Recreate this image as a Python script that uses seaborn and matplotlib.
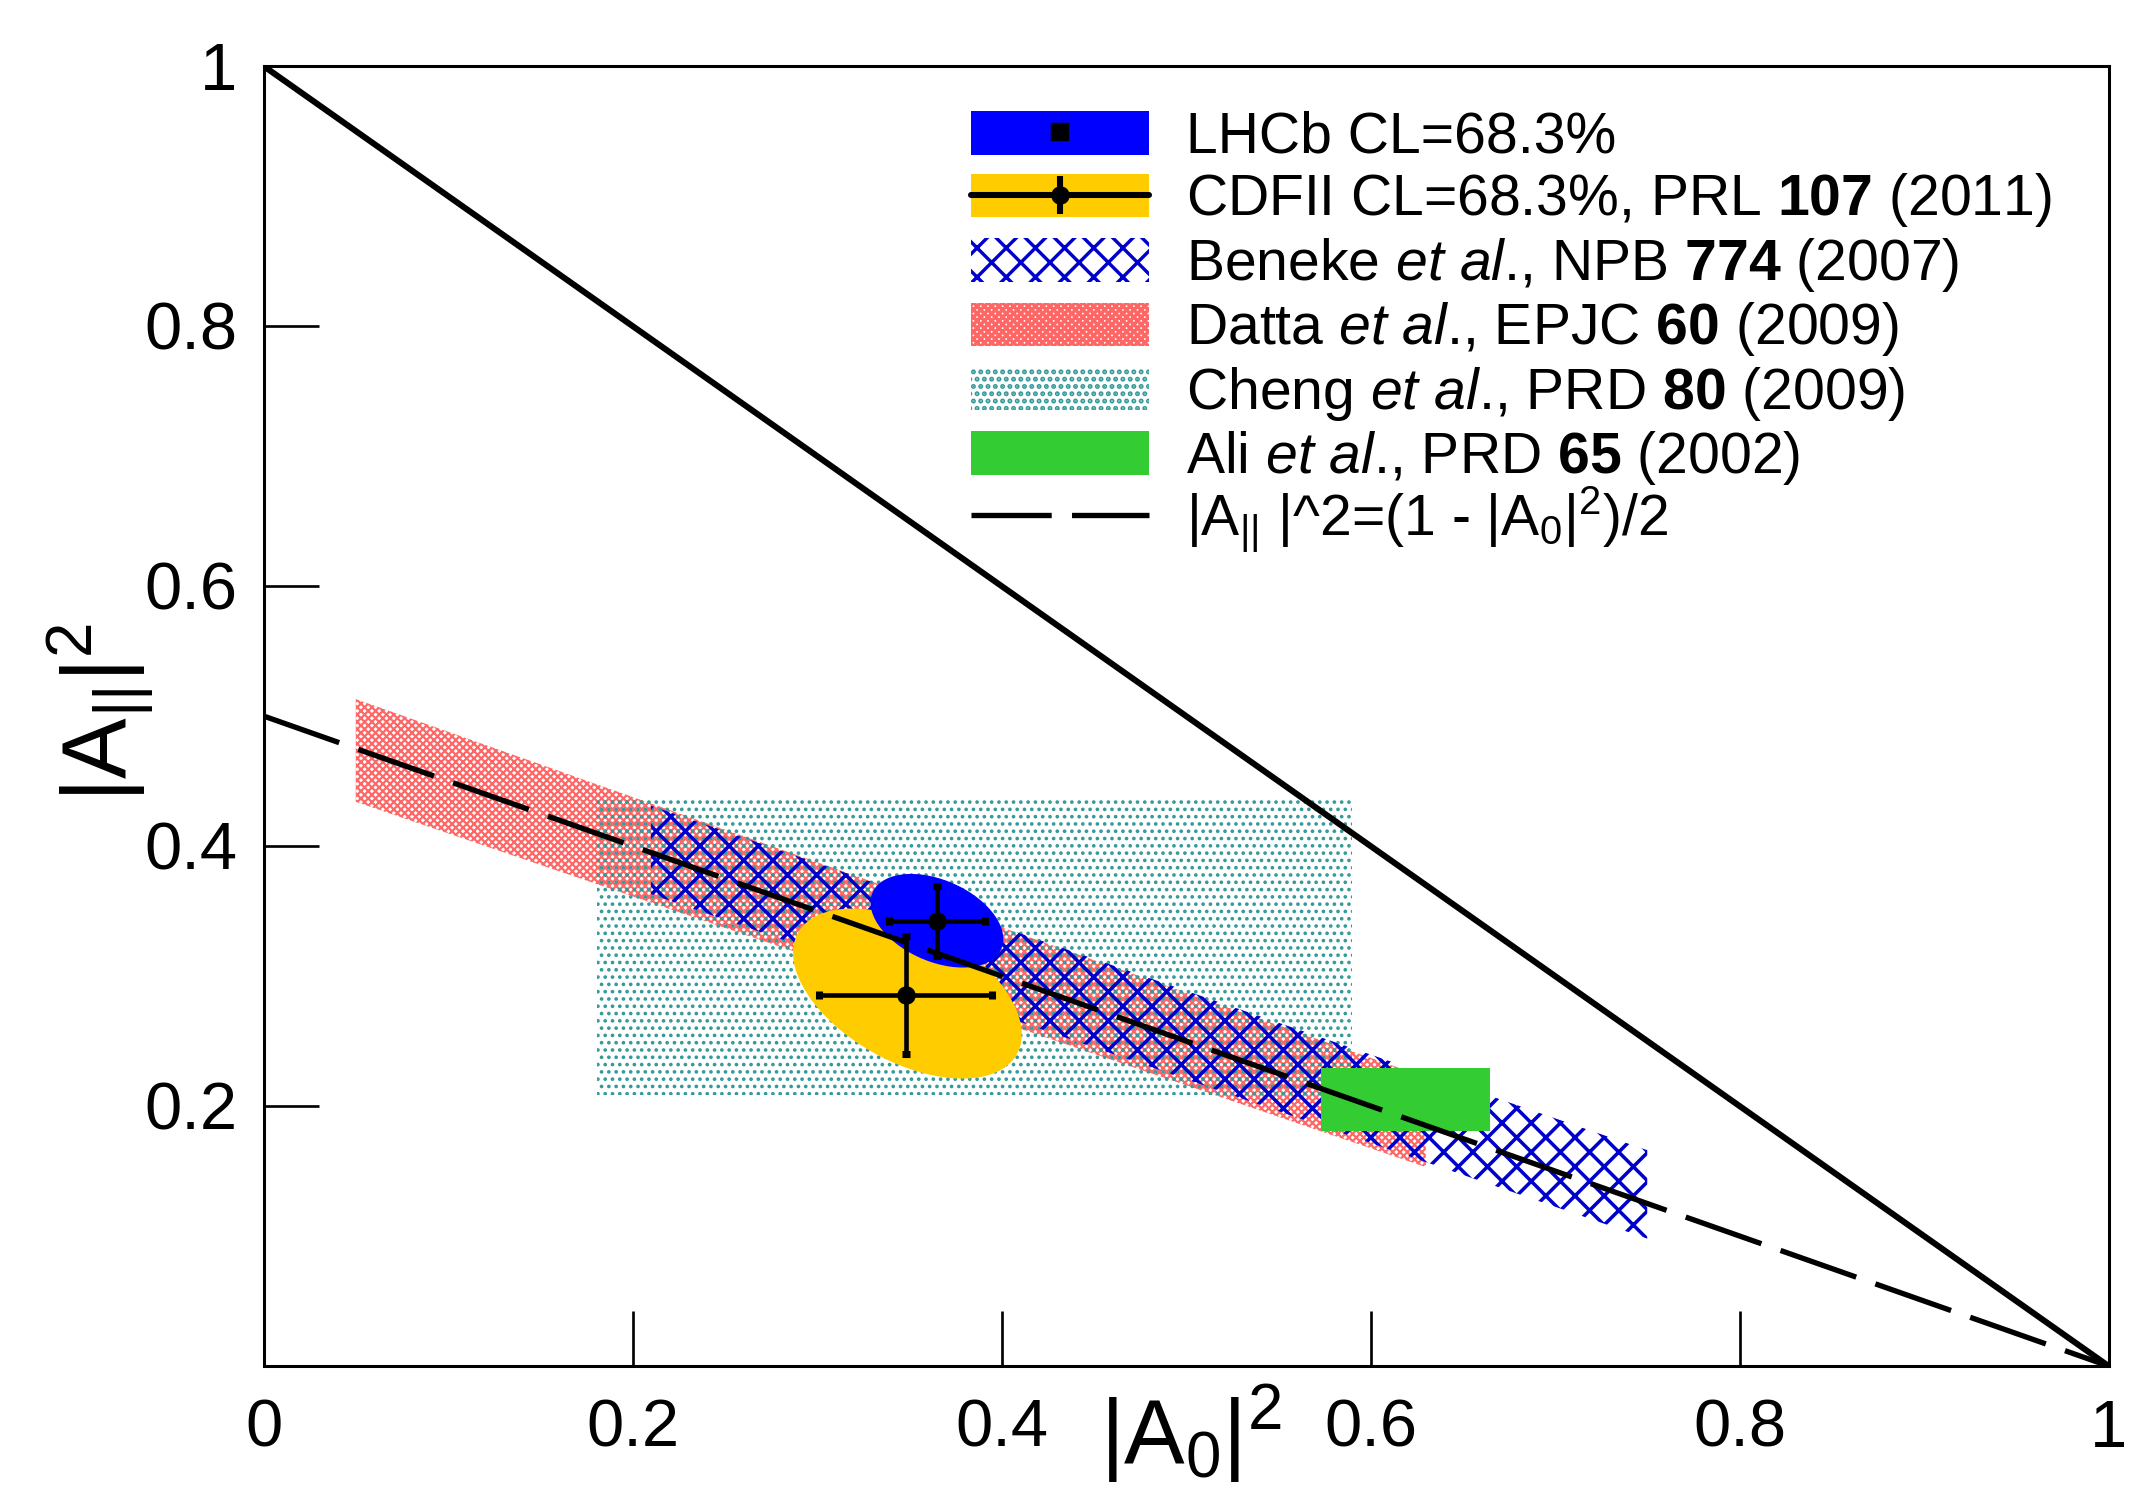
import numpy as np
import pandas as pd
import matplotlib
matplotlib.use('Agg')
import matplotlib.pyplot as plt
import seaborn as sns
from matplotlib.patches import Polygon, Rectangle, Ellipse, Patch
from matplotlib.lines import Line2D
from matplotlib.legend_handler import HandlerTuple

# ---------------- data ----------------
xtick_vals = [0.0, 0.2, 0.4, 0.6, 0.8, 1.0]
xtick_labels = ['0', '0.2', '0.4', '0.6', '0.8', '1']
ytick_vals = [0.2, 0.4, 0.6, 0.8, 1.0]
ytick_labels = ['0.2', '0.4', '0.6', '0.8', '1']

# physical boundary |A0|^2 + |A||^2 = 1
boundary_x = [0.0, 1.0]
boundary_y = [1.0, 0.0]
# |A|||^2 = (1 - |A0|^2)/2
relation_x = [0.0, 1.0]
relation_y = [0.5, 0.0]

# theory predictions (band corners / box edges)
datta_x = [0.050, 0.630, 0.630, 0.050]
datta_y = [0.513, 0.222, 0.153, 0.434]
beneke_x = [0.210, 0.750, 0.750, 0.210]
beneke_y = [0.431, 0.166, 0.098, 0.363]
cheng_x = [0.181, 0.590]
cheng_y = [0.2085, 0.438]
ali_x = [0.573, 0.665]
ali_y = [0.181, 0.2295]

# measurements: centre, half-extent of CL contour, correlation, point errors
lhcb_center = [0.365, 0.3425]
lhcb_halfext = [0.036, 0.036]
lhcb_rho = -0.39
lhcb_point = [0.365, 0.3425]
lhcb_err = [0.026, 0.027]

cdf_center = [0.349, 0.2865]
cdf_halfext = [0.062, 0.0654]
cdf_rho = -0.48
cdf_point = [0.348, 0.2855]
cdf_err = [0.047, 0.0455]

legend_labels = [
    'LHCb CL=68.3%',
    r'CDFII CL=68.3%, PRL $\mathbf{107}$ (2011)',
    r'Beneke $\mathit{et\ al}$., NPB $\mathbf{774}$ (2007)',
    r'Datta $\mathit{et\ al}$., EPJC $\mathbf{60}$ (2009)',
    r'Cheng $\mathit{et\ al}$., PRD $\mathbf{80}$ (2009)',
    r'Ali $\mathit{et\ al}$., PRD $\mathbf{65}$ (2002)',
]
relation_label = r'$|A_{||}$ |^2=(1 - $|A_{0}|^{2}$)/2'

# ---------------- style ----------------
C_LHCB = '#0000ff'
C_CDF = '#ffcc00'
C_BENEKE = '#0000cc'
C_DATTA = '#ff6666'
C_CHENG = '#339999'
C_ALI = '#33cc33'

H_BENEKE = 'xx'
H_DATTA = 'xxxxxxxx'
H_CHENG = '....'

DPI = 175
sns.set_theme(style='ticks')
plt.rcParams['font.family'] = ['Liberation Sans', 'DejaVu Sans']
plt.rcParams.update({
    'mathtext.fontset': 'custom',
    'mathtext.rm': 'Liberation Sans',
    'mathtext.it': 'Liberation Sans:italic',
    'mathtext.bf': 'Liberation Sans:bold',
    'mathtext.sf': 'Liberation Sans',
    'mathtext.default': 'regular',
    'hatch.linewidth': 1.4,
    'axes.linewidth': 1.25,
    'axes.edgecolor': 'black',
    'xtick.color': 'black',
    'ytick.color': 'black',
    'text.color': 'black',
    'axes.labelcolor': 'black',
})


def with_hatch_lw(cls, *args, hlw=1.4, **kw):
    with plt.rc_context({'hatch.linewidth': hlw}):
        p = cls(*args, **kw)
    if hasattr(p, 'set_hatch_linewidth'):
        p.set_hatch_linewidth(hlw)
    return p


def cov_ellipse(center, halfext, rho, **kw):
    sx, sy = halfext
    cov = np.array([[sx * sx, rho * sx * sy], [rho * sx * sy, sy * sy]])
    vals, vecs = np.linalg.eigh(cov)
    order = np.argsort(vals)[::-1]
    vals, vecs = vals[order], vecs[:, order]
    ang = np.degrees(np.arctan2(vecs[1, 0], vecs[0, 0]))
    return Ellipse(center, 2 * np.sqrt(vals[0]), 2 * np.sqrt(vals[1]), angle=ang, **kw)


W, H = 2140, 1493
fig = plt.figure(figsize=(W / DPI, H / DPI), dpi=DPI, facecolor='white')
L, R, T, B = 263.5, 2108.5, 66, 1366
ax = fig.add_axes([L / W, 1 - B / H, (R - L) / W, (B - T) / H])
ax.set_facecolor('white')

HLW_DATTA, HLW_CHENG, HLW_BENEKE = 0.9, 0.9, 1.45

# theory bands
ax.add_patch(with_hatch_lw(Polygon, np.column_stack([datta_x, datta_y]), closed=True,
                           facecolor='none', edgecolor=C_DATTA, hatch=H_DATTA, lw=0,
                           zorder=1, hlw=HLW_DATTA))
ax.add_patch(with_hatch_lw(Rectangle, (cheng_x[0], cheng_y[0]), cheng_x[1] - cheng_x[0],
                           cheng_y[1] - cheng_y[0], facecolor='none', edgecolor=C_CHENG,
                           hatch=H_CHENG, lw=0, zorder=2, hlw=HLW_CHENG))
ax.add_patch(with_hatch_lw(Polygon, np.column_stack([beneke_x, beneke_y]), closed=True,
                           facecolor='none', edgecolor=C_BENEKE, hatch=H_BENEKE, lw=0,
                           zorder=3, hlw=HLW_BENEKE))
ax.add_patch(Rectangle((ali_x[0], ali_y[0]), ali_x[1] - ali_x[0], ali_y[1] - ali_y[0],
                       facecolor=C_ALI, edgecolor='none', zorder=4))

# measurement contours
ax.add_patch(cov_ellipse(cdf_center, cdf_halfext, cdf_rho, facecolor=C_CDF,
                         edgecolor='none', zorder=5))
ax.add_patch(cov_ellipse(lhcb_center, lhcb_halfext, lhcb_rho, facecolor=C_LHCB,
                         edgecolor='none', zorder=6))

# lines
sns.lineplot(x=boundary_x, y=boundary_y, color='black', linewidth=2.5, ax=ax, zorder=7)
sns.lineplot(x=relation_x, y=relation_y, color='black', linewidth=2.2,
             linestyle=(0, (15, 3.8)), ax=ax, zorder=7)

# measured points
for pt, err in [(cdf_point, cdf_err), (lhcb_point, lhcb_err)]:
    ax.errorbar([pt[0]], [pt[1]], xerr=[err[0]], yerr=[err[1]], fmt='o', color='black',
                ms=6.6, elinewidth=1.9, capsize=1.7, capthick=2.9, zorder=9)

# axes
ax.set_xlim(0, 1)
ax.set_ylim(0, 1)
ax.set_xticks(xtick_vals, labels=xtick_labels)
ax.set_yticks(ytick_vals, labels=ytick_labels)
ax.minorticks_off()
ax.tick_params(direction='in', length=22.6, width=1.1, labelsize=27.5,
               top=False, right=False, colors='black')
ax.tick_params(axis='x', pad=13.5)
ax.tick_params(axis='y', pad=10.9)
for s in ax.spines.values():
    s.set_visible(True)
    s.set_color('black')
    s.set_linewidth(1.25)

ax.set_xlabel(r'$|A_{0}|^{2}$', fontsize=37.4)
ax.xaxis.set_label_coords(0.5024, -0.0746)
ax.xaxis.label.set_verticalalignment('baseline')
ax.set_ylabel(r'$|A_{||}|^{2}$', fontsize=37.4)
ax.yaxis.set_label_coords(-0.0745, 0.503)
ax.yaxis.label.set_verticalalignment('baseline')
ax.yaxis.label.set_rotation_mode('anchor')

# legend
h_lhcb = (Patch(facecolor=C_LHCB, edgecolor='none'),
          Line2D([], [], ls='none', marker='s', ms=6.6, color='black'))
h_cdf = (Patch(facecolor=C_CDF, edgecolor='none'),
         Line2D([], [], color='black', lw=2.5, marker='o', ms=6.6),
         Line2D([], [], ls='none', marker='|', ms=16, mew=2.5, color='black'))
h_ben = with_hatch_lw(Patch, facecolor='none', edgecolor=C_BENEKE, hatch=H_BENEKE, lw=0,
                      hlw=HLW_BENEKE)
h_dat = with_hatch_lw(Patch, facecolor='none', edgecolor=C_DATTA, hatch=H_DATTA, lw=0,
                      hlw=HLW_DATTA)
h_che = with_hatch_lw(Patch, facecolor='none', edgecolor=C_CHENG, hatch=H_CHENG, lw=0,
                      hlw=HLW_CHENG)
h_ali = Patch(facecolor=C_ALI, edgecolor='none')
h_rel = Line2D([], [], color='black', lw=2.2, linestyle=(0, (15, 3.8)))
handles = [h_lhcb, h_cdf, h_ben, h_dat, h_che, h_ali]

leg_kw = dict(loc='upper left', bbox_transform=ax.transAxes, frameon=False,
              borderpad=0, borderaxespad=0, fontsize=23.5, handlelength=3.12,
              handleheight=0.79, handletextpad=0.65, labelspacing=0.112, numpoints=1,
              handler_map={tuple: HandlerTuple(ndivide=1, pad=0)})
leg1 = ax.legend(handles, legend_labels, bbox_to_anchor=(0.3835, 0.9654), **leg_kw)
leg1.set_zorder(10)
ax.add_artist(leg1)
leg2 = ax.legend([h_rel], [relation_label], bbox_to_anchor=(0.3835, 0.6779), **leg_kw)
leg2.set_zorder(10)

fig.savefig('out.png', dpi=DPI, facecolor='white')
